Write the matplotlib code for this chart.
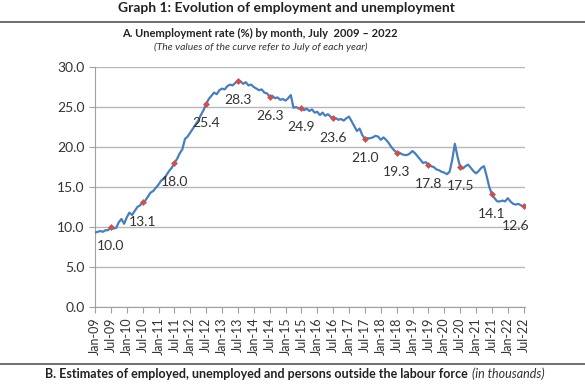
import numpy as np
import pandas as pd
import matplotlib
matplotlib.use('Agg')
import matplotlib.pyplot as plt
from matplotlib.lines import Line2D

plt.rcParams['font.family'] = ['Lato', 'DejaVu Sans']

# monthly unemployment rate (%), Jan-09 .. Jul-22
rate_2009 = [9.3, 9.4, 9.5, 9.4, 9.6, 9.6, 10.0, 9.8, 9.9, 10.6, 11.0, 10.4]
rate_2010 = [11.2, 11.8, 11.5, 12.0, 12.5, 12.7, 13.1, 13.3, 13.8, 14.3, 14.5, 14.9]
rate_2011 = [15.3, 15.8, 16.0, 16.5, 17.0, 17.4, 18.0, 18.5, 19.2, 19.7, 21.0, 21.3]
rate_2012 = [21.8, 22.3, 22.8, 23.3, 24.0, 24.6, 25.4, 26.0, 26.4, 26.8, 26.6, 27.1]
rate_2013 = [27.3, 27.2, 27.6, 27.8, 27.7, 28.0, 28.3, 28.2, 27.9, 28.1, 27.7, 27.8]
rate_2014 = [27.5, 27.3, 27.1, 27.2, 26.8, 26.7, 26.3, 26.4, 26.1, 26.2, 25.9, 26.0]
rate_2015 = [25.8, 26.1, 26.5, 24.9, 25.0, 24.8, 24.9, 24.6, 24.8, 24.5, 24.7, 24.3]
rate_2016 = [24.4, 24.0, 24.3, 23.9, 24.1, 23.8, 23.6, 23.6, 23.4, 23.5, 23.3, 23.6]
rate_2017 = [23.8, 23.2, 22.6, 22.0, 22.3, 21.5, 21.0, 21.1, 21.1, 21.2, 21.4, 21.3]
rate_2018 = [20.9, 21.2, 20.9, 20.5, 20.0, 19.6, 19.3, 19.3, 19.1, 19.0, 19.0, 19.2]
rate_2019 = [19.5, 19.2, 18.8, 18.4, 18.0, 18.1, 17.8, 17.6, 17.5, 17.2, 17.1, 16.9]
rate_2020 = [16.8, 16.6, 16.9, 18.4, 20.4, 18.8, 17.5, 17.3, 17.6, 17.8, 17.4, 17.0]
rate_2021 = [16.7, 17.0, 17.4, 17.6, 16.4, 15.0, 14.1, 13.6, 13.2, 13.2, 13.3, 13.2]
rate_2022 = [13.6, 13.2, 12.9, 12.8, 12.9, 12.7, 12.6]

# July values written on the curve
july_labels = [10.0, 13.1, 18.0, 25.4, 28.3, 26.3, 24.9, 23.6, 21.0, 19.3, 17.8,
               17.5, 14.1, 12.6]

rate = np.array(rate_2009 + rate_2010 + rate_2011 + rate_2012 + rate_2013 +
                rate_2014 + rate_2015 + rate_2016 + rate_2017 + rate_2018 +
                rate_2019 + rate_2020 + rate_2021 + rate_2022)
months = pd.date_range('2009-01-01', periods=len(rate), freq='MS')
idx = np.arange(len(rate))
tick_idx = idx[::6]
tick_labels = [m.strftime('%b-%y') for m in months[::6]]
july_idx = idx[6::12]

fig = plt.figure(figsize=(5.85, 3.9), dpi=100)
ax = fig.add_axes([0.1624, 0.2128, 0.735, 0.6154])

ax.plot(idx, rate, color='#4a7ebb', lw=1.6, zorder=3)
ax.plot(july_idx, rate[july_idx], ls='none', marker='D', ms=3.5, mew=0,
        color='#c9524f', zorder=4)
for i, (j, lab) in enumerate(zip(july_idx, july_labels)):
    dx = -6 if i == len(july_labels) - 1 else 0
    ax.annotate('{:.1f}'.format(lab), (j, rate[j]), xytext=(dx, -14),
                textcoords='offset points', ha='center', va='center',
                fontsize=10, color='#333333')

ax.set_xlim(0, 162.5)
ax.set_ylim(0, 30)
ax.set_yticks(np.arange(0, 31, 5))
ax.set_yticklabels(['{:.1f}'.format(v) for v in np.arange(0, 31, 5)],
                   fontsize=10, color='#333333')
ax.set_xticks(tick_idx)
ax.set_xticklabels(tick_labels, rotation=90, fontsize=9, color='#333333')
ax.grid(axis='y', color='#b8b8b8', lw=1)
ax.set_axisbelow(True)
for s in ['top', 'right']:
    ax.spines[s].set_visible(False)
for s in ['left', 'bottom']:
    ax.spines[s].set_color('#a0a0a0')
ax.tick_params(axis='both', colors='#a0a0a0', labelcolor='#333333', length=4)

fig.text(0.49, 0.979, 'Graph 1: Evolution of employment and unemployment',
         ha='center', va='center', fontsize=10, fontweight='bold', color='#222222')
fig.add_artist(Line2D([0, 1], [1 - 22 / 390] * 2, color='#555555', lw=1.2))
fig.text(0.445, 1 - 33 / 390, 'A. Unemployment rate (%) by month, July  2009 \u2013 2022',
         ha='center', va='center', fontsize=8, fontweight='bold', color='#222222')
fig.text(0.445, 1 - 47 / 390, '(The values of the curve refer to July of each year)',
         ha='center', va='center', fontsize=7.5, style='italic', color='#333333')

fig.add_artist(Line2D([0, 1], [1 - 364 / 390] * 2, color='#555555', lw=1.2))
fig.text(45 / 585, 1 - 374 / 390,
         'B. Estimates of employed, unemployed and persons outside the labour force',
         ha='left', va='center', fontsize=9, fontweight='bold', color='#222222')
fig.text(472 / 585, 1 - 374 / 390, '(in thousands)',
         ha='left', va='center', fontsize=9, style='italic', color='#333333')

fig.savefig('out.png', dpi=100)
